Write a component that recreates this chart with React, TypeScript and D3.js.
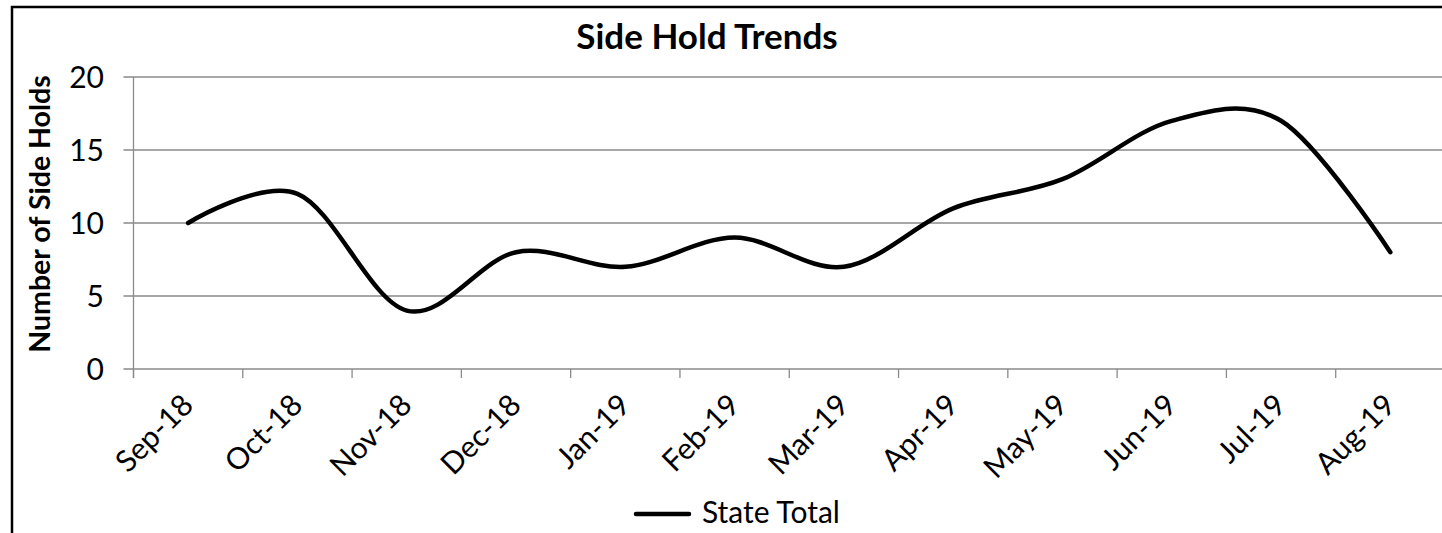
import * as d3 from "d3";

const months = [
  "Sep-18", "Oct-18", "Nov-18", "Dec-18", "Jan-19", "Feb-19",
  "Mar-19", "Apr-19", "May-19", "Jun-19", "Jul-19", "Aug-19",
];
const stateTotal = [10, 12, 4, 8, 7, 9, 7, 11, 13, 17, 17, 8];
const yTicks = [0, 5, 10, 15, 20];

const width = 1442;
const height = 533;
const font = "Lato, 'Open Sans', sans-serif";
const gridColor = "#8a8a8a";

export default function App() {
  const x = d3.scaleBand<string>().domain(months).range([133.5, 1445]);
  const y = d3.scaleLinear().domain([0, 20]).range([369, 77]);

  const line = d3
    .line<number>()
    .x((_, i) => x(months[i])! + x.bandwidth() / 2)
    .y((d) => y(d))
    .curve(d3.curveCatmullRom.alpha(0));

  const x0 = x.range()[0];
  const x1 = x.range()[1];

  return (
    <svg
      width={width}
      height={height}
      style={{ position: "absolute", left: 0, top: 0, background: "white" }}
    >
      {/* chart border, cut off on the right and bottom like the original */}
      <rect x={12} y={7} width={1460} height={560} fill="white" stroke="black" strokeWidth={2.5} />

      <text x={707} y={49} textAnchor="middle" fontFamily={font} fontWeight="bold" fontSize={35}>
        Side Hold Trends
      </text>

      {/* gridlines + y ticks */}
      {yTicks.map((t) => (
        <g key={t}>
          <line x1={x0 - 10} x2={x1} y1={y(t)} y2={y(t)} stroke={gridColor} strokeWidth={1.3} />
          <text
            x={104}
            y={y(t)}
            dy="0.36em"
            textAnchor="end"
            fontFamily={font}
            fontSize={30}
          >
            {t}
          </text>
        </g>
      ))}

      {/* y axis line */}
      <line x1={x0} x2={x0} y1={y(20)} y2={y(0) + 9} stroke={gridColor} strokeWidth={1.3} />

      {/* x ticks */}
      {months.map((m) => (
        <line
          key={m}
          x1={x(m)!}
          x2={x(m)!}
          y1={y(0)}
          y2={y(0) + 9}
          stroke={gridColor}
          strokeWidth={1.3}
        />
      ))}
      <line x1={x1} x2={x1} y1={y(0)} y2={y(0) + 9} stroke={gridColor} strokeWidth={1.3} />

      {/* x labels */}
      {months.map((m) => {
        const cx = x(m)! + x.bandwidth() / 2;
        return (
          <text
            key={m}
            transform={`translate(${cx - 8},${y(0) + 23}) rotate(-45)`}
            textAnchor="end"
            dy="0.7em"
            fontFamily={font}
            fontSize={30}
          >
            {m}
          </text>
        );
      })}

      <text
        transform={`translate(50,${(y(0) + y(20)) / 2 - 9}) rotate(-90)`}
        textAnchor="middle"
        fontFamily={font}
        fontWeight="bold"
        fontSize={28.5}
      >
        Number of Side Holds
      </text>

      <path
        d={line(stateTotal) ?? ""}
        fill="none"
        stroke="black"
        strokeWidth={4.5}
        strokeLinecap="round"
        strokeLinejoin="round"
      />

      {/* legend */}
      <line x1={636} x2={689} y1={514} y2={514} stroke="black" strokeWidth={4.5} strokeLinecap="round" />
      <text x={702} y={523} fontFamily={font} fontSize={30}>
        State Total
      </text>
    </svg>
  );
}
